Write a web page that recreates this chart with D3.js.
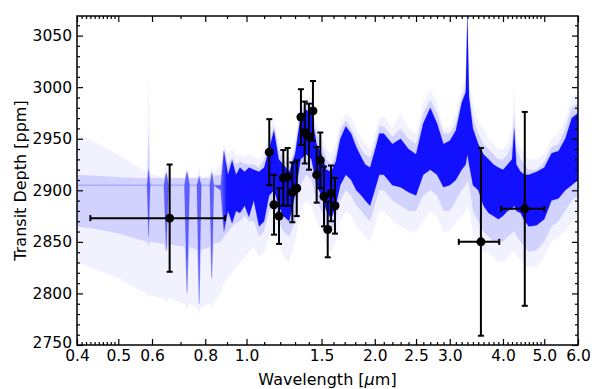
<!DOCTYPE html>
<html>
<head>
<meta charset="utf-8">
<script src="https://cdn.jsdelivr.net/npm/d3@7"></script>
<style>
  body { margin: 0; background: #fff; }
  svg { display: block; font-family: "DejaVu Sans", sans-serif; }
</style>
</head>
<body>
<svg id="chart"></svg>
<script>
// model envelope (wavelength in micron, depth in ppm)
const wave = [0.400,0.450,0.500,0.560,0.584,0.589,0.594,0.640,0.648,0.656,0.715,0.725,0.735,0.765,0.774,0.783,0.820,0.829,0.838,0.870,
  0.885,0.905,0.925,0.945,0.965,0.990,1.013,1.040,1.070,1.100,1.130,1.160,1.190,1.220,1.260,1.300,1.340,1.380,1.420,1.460,
  1.500,1.540,1.580,1.620,1.660,1.710,1.760,1.810,1.860,1.900,1.950,2.000,2.050,2.100,2.200,2.300,2.400,2.500,2.600,2.700,
  2.800,2.900,3.000,3.100,3.200,3.270,3.300,3.330,3.400,3.500,3.600,3.700,3.800,3.900,4.000,4.100,4.200,4.250,4.300,4.400,
  4.500,4.600,4.800,5.000,5.200,5.400,5.600,5.800,6.000];
const outerLo = [2830,2822,2815,2803,2800,2795,2798,2795,2790,2795,2790,2785,2790,2786,2780,2786,2790,2785,2792,2800,
  2810,2815,2820,2825,2830,2835,2840,2845,2835,2840,2855,2860,2850,2835,2830,2850,2880,2890,2885,2870,
  2860,2845,2840,2850,2870,2880,2875,2865,2860,2855,2850,2865,2880,2880,2870,2865,2860,2860,2870,2880,
  2875,2860,2860,2870,2875,2880,2885,2880,2860,2850,2840,2840,2835,2830,2830,2835,2840,2840,2838,2832,
  2828,2825,2826,2835,2850,2855,2860,2870,2875];
const outerHi = [2955,2945,2935,2922,2918,3025,2916,2913,2930,2913,2912,2925,2912,2912,2925,2912,2915,2925,2918,2925,
  2945,2935,2940,2935,2935,2932,2935,2932,2930,2940,2955,2968,2948,2935,2930,2950,2985,2990,2990,2965,
  2955,2940,2935,2945,2965,2975,2970,2960,2950,2945,2940,2955,2970,2972,2960,2975,2960,2955,2985,2998,
  2985,2960,2960,2975,3000,3010,3075,3005,2985,2965,2960,2950,2945,2940,2940,2945,2960,3000,2950,2940,
  2935,2930,2930,2935,2950,2955,2970,2990,2995];
const midLo = [2865,2862,2858,2852,2850,2845,2850,2848,2840,2848,2845,2800,2845,2842,2790,2842,2845,2812,2848,2850,
  2855,2860,2865,2868,2870,2875,2870,2870,2855,2860,2880,2885,2870,2860,2855,2870,2905,2915,2910,2890,
  2880,2865,2860,2870,2890,2900,2895,2885,2880,2875,2870,2885,2900,2900,2890,2885,2880,2880,2895,2900,
  2895,2880,2880,2890,2900,2905,2910,2905,2880,2870,2860,2855,2850,2850,2850,2855,2858,2860,2856,2850,
  2845,2840,2842,2850,2865,2870,2880,2890,2895];
const midHi = [2915,2914,2913,2912,2912,2960,2912,2912,2918,2912,2912,2918,2912,2912,2915,2912,2912,2918,2914,2915,
  2940,2925,2932,2925,2928,2926,2925,2925,2922,2930,2948,2962,2940,2930,2925,2940,2978,2985,2982,2955,
  2945,2930,2925,2935,2958,2968,2960,2950,2940,2935,2932,2945,2962,2962,2952,2960,2950,2945,2975,2988,
  2975,2955,2955,2965,2990,3000,3072,2995,2970,2955,2945,2940,2935,2930,2930,2935,2945,2975,2940,2930,
  2925,2920,2920,2928,2942,2945,2960,2980,2985];
const coreLo = [2905,2905,2905,2905,2905,2855,2905,2905,2842,2905,2905,2800,2905,2905,2790,2905,2905,2815,2905,2900,
  2860,2880,2868,2880,2878,2885,2874,2890,2865,2870,2895,2900,2885,2875,2870,2895,2930,2935,2930,2905,
  2895,2880,2872,2885,2905,2915,2910,2900,2895,2890,2885,2900,2915,2915,2905,2903,2898,2895,2915,2920,
  2915,2903,2905,2910,2920,2925,2935,2925,2905,2900,2885,2878,2875,2872,2875,2880,2882,2885,2880,2878,
  2870,2865,2866,2872,2890,2892,2900,2905,2910];
const coreHi = [2905,2905,2905,2905,2905,2920,2905,2905,2917,2905,2905,2918,2905,2905,2913,2905,2905,2917,2905,2905,
  2938,2915,2929,2915,2922,2918,2922,2920,2918,2922,2940,2958,2930,2925,2918,2935,2972,2978,2975,2945,
  2935,2920,2918,2928,2950,2962,2955,2942,2932,2925,2922,2938,2955,2955,2945,2950,2940,2935,2965,2980,
  2965,2945,2948,2958,2985,2995,3072,2990,2960,2945,2935,2930,2925,2922,2920,2925,2930,2960,2925,2918,
  2915,2915,2918,2922,2936,2938,2950,2970,2975];

// HST WFC3 points
const wfcWave = [1.131,1.160,1.192,1.220,1.249,1.281,1.312,1.342,1.370,1.402,1.432,1.461,1.490,1.520,1.551,1.579,1.613];
const wfcDepth = [2937,2886,2875,2912,2913,2898,2902,2971,2956,2952,2977,2915,2929,2894,2862,2897,2885];
const wfcErr = [32,29,27,27,28,29,27,27,30,32,29,27,27,29,27,27,27];

// broadband points (optical, Spitzer)
const bandWave = [0.66,3.55,4.50];
const bandLo = [0.43,3.15,3.96];
const bandHi = [0.89,3.92,5.00];
const bandDepth = [2873,2850,2882];
const bandErr = [52,91,94];

const xTicks = [0.4,0.5,0.6,0.8,1.0,1.5,2.0,2.5,3.0,4.0,5.0,6.0];
const yTicks = [2750,2800,2850,2900,2950,3000,3050];

const width = 600, height = 389;
const m = { left: 77, right: 22, top: 16, bottom: 44 };

const svg = d3.select("#chart").attr("width", width).attr("height", height);

const x = d3.scaleLog().domain([0.4, 6.0]).range([m.left, width - m.right]);
const y = d3.scaleLinear().domain([2750, 3069]).range([height - m.bottom, m.top]);

const defs = svg.append("defs");
defs.append("clipPath").attr("id", "clip")
  .append("rect")
  .attr("x", m.left).attr("y", m.top)
  .attr("width", width - m.left - m.right)
  .attr("height", height - m.top - m.bottom);

// optical part of the model is made of fainter lines
const grad = defs.append("linearGradient").attr("id", "coreFill")
  .attr("gradientUnits", "userSpaceOnUse")
  .attr("x1", m.left).attr("x2", width - m.right).attr("y1", 0).attr("y2", 0);
const split = (x(0.875) - m.left) / (width - m.right - m.left);
grad.append("stop").attr("offset", 0).attr("stop-color", "#0000ff").attr("stop-opacity", 0.55);
grad.append("stop").attr("offset", split).attr("stop-color", "#0000ff").attr("stop-opacity", 0.55);
grad.append("stop").attr("offset", split + 0.01).attr("stop-color", "#0000ff").attr("stop-opacity", 0.92);
grad.append("stop").attr("offset", 1).attr("stop-color", "#0000ff").attr("stop-opacity", 0.92);

const plot = svg.append("g").attr("clip-path", "url(#clip)");

const band = (lo, hi) => d3.area()
  .x((d, i) => x(wave[i]))
  .y0((d, i) => y(lo[i]))
  .y1((d, i) => y(hi[i]));

plot.append("path").attr("d", band(outerLo, outerHi)(wave))
  .attr("fill", "#0000ff").attr("fill-opacity", 0.05);
plot.append("path").attr("d", band(midLo, midHi)(wave))
  .attr("fill", "#0000ff").attr("fill-opacity", 0.13);
plot.append("path").attr("d", band(coreLo, coreHi)(wave))
  .attr("fill", "url(#coreFill)")
  .attr("stroke", "#0000ff").attr("stroke-opacity", 0.25).attr("stroke-width", 0.6);

// error bars
const pts = svg.append("g").attr("stroke", "#000").attr("stroke-width", 2);
const cap = 3;

bandWave.forEach((w, i) => {
  const cx = x(w), cy = y(bandDepth[i]);
  const x0 = x(bandLo[i]), x1 = x(bandHi[i]);
  const y0 = y(bandDepth[i] - bandErr[i]), y1 = y(bandDepth[i] + bandErr[i]);
  pts.append("line").attr("x1", x0).attr("x2", x1).attr("y1", cy).attr("y2", cy);
  pts.append("line").attr("x1", x0).attr("x2", x0).attr("y1", cy - cap).attr("y2", cy + cap);
  pts.append("line").attr("x1", x1).attr("x2", x1).attr("y1", cy - cap).attr("y2", cy + cap);
  pts.append("line").attr("x1", cx).attr("x2", cx).attr("y1", y0).attr("y2", y1);
  pts.append("line").attr("x1", cx - cap).attr("x2", cx + cap).attr("y1", y0).attr("y2", y0);
  pts.append("line").attr("x1", cx - cap).attr("x2", cx + cap).attr("y1", y1).attr("y2", y1);
});

wfcWave.forEach((w, i) => {
  const cx = x(w);
  const y0 = y(wfcDepth[i] - wfcErr[i]), y1 = y(wfcDepth[i] + wfcErr[i]);
  pts.append("line").attr("x1", cx).attr("x2", cx).attr("y1", y0).attr("y2", y1);
  pts.append("line").attr("x1", cx - cap).attr("x2", cx + cap).attr("y1", y0).attr("y2", y0);
  pts.append("line").attr("x1", cx - cap).attr("x2", cx + cap).attr("y1", y1).attr("y2", y1);
});

svg.append("g").selectAll("circle")
  .data(wfcWave.map((w, i) => [w, wfcDepth[i]]).concat(bandWave.map((w, i) => [w, bandDepth[i]])))
  .enter().append("circle")
  .attr("cx", d => x(d[0])).attr("cy", d => y(d[1]))
  .attr("r", 4.5).attr("fill", "#000");

// axes, ticks pointing inward on all sides
const xMinor = d3.range(41, 50).map(v => v / 100)
  .concat(d3.range(5, 51).map(v => v / 10))
  .filter(v => !xTicks.some(t => Math.abs(t - v) < 1e-9));
const yMinor = d3.range(2760, 3069, 10).filter(v => v % 50 !== 0);

const styleAxis = g => {
  g.select(".domain").remove();
  g.selectAll("line").attr("stroke", "#000").attr("stroke-width", 1.2);
  g.selectAll("text").attr("font-size", 15.5).attr("fill", "#000")
    .attr("font-family", "DejaVu Sans, sans-serif");
};

const bottom = height - m.bottom, right = width - m.right;

svg.append("g").attr("transform", `translate(0,${bottom})`)
  .call(d3.axisBottom(x).tickValues(xTicks).tickFormat(d3.format(".1f")).tickSize(-6).tickPadding(5))
  .call(styleAxis);
svg.append("g").attr("transform", `translate(0,${bottom})`)
  .call(d3.axisBottom(x).tickValues(xMinor).tickFormat("").tickSize(-3))
  .call(styleAxis);
svg.append("g").attr("transform", `translate(0,${m.top})`)
  .call(d3.axisTop(x).tickValues(xTicks).tickFormat("").tickSize(-6))
  .call(styleAxis);
svg.append("g").attr("transform", `translate(0,${m.top})`)
  .call(d3.axisTop(x).tickValues(xMinor).tickFormat("").tickSize(-3))
  .call(styleAxis);

svg.append("g").attr("transform", `translate(${m.left},0)`)
  .call(d3.axisLeft(y).tickValues(yTicks).tickFormat(d3.format("d")).tickSize(-6).tickPadding(5))
  .call(styleAxis)
  .call(g => g.selectAll(".tick text").attr("dy", d => d === 2750 ? "0.15em" : "0.32em"));
svg.append("g").attr("transform", `translate(${m.left},0)`)
  .call(d3.axisLeft(y).tickValues(yMinor).tickFormat("").tickSize(-3))
  .call(styleAxis);
svg.append("g").attr("transform", `translate(${right},0)`)
  .call(d3.axisRight(y).tickValues(yTicks).tickFormat("").tickSize(-6))
  .call(styleAxis);
svg.append("g").attr("transform", `translate(${right},0)`)
  .call(d3.axisRight(y).tickValues(yMinor).tickFormat("").tickSize(-3))
  .call(styleAxis);

svg.append("rect")
  .attr("x", m.left).attr("y", m.top)
  .attr("width", right - m.left).attr("height", bottom - m.top)
  .attr("fill", "none").attr("stroke", "#000").attr("stroke-width", 1.5);

// axis titles
const xt = svg.append("text")
  .attr("x", (m.left + right) / 2).attr("y", 385)
  .attr("text-anchor", "middle").attr("font-size", 16);
xt.append("tspan").text("Wavelength [");
xt.append("tspan").attr("font-style", "italic").text("μ");
xt.append("tspan").text("m]");

svg.append("text")
  .attr("transform", `translate(26,${(m.top + bottom) / 2}) rotate(-90)`)
  .attr("text-anchor", "middle").attr("font-size", 16)
  .text("Transit Depth [ppm]");
</script>
</body>
</html>
